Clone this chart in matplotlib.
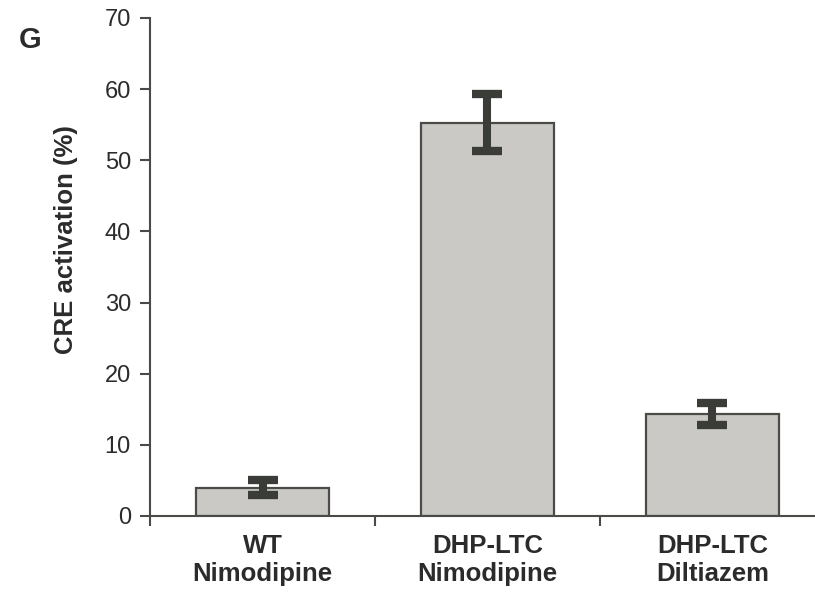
import matplotlib
matplotlib.use("Agg")
import matplotlib.pyplot as plt
import numpy as np

# values
categories = ["WT\nNimodipine", "DHP-LTC\nNimodipine", "DHP-LTC\nDiltiazem"]
activation = [4.0, 55.3, 14.4]
activation_err = [1.0, 4.0, 1.55]
yticks = [0, 10, 20, 30, 40, 50, 60, 70]

bar_fill = "#cbc9c5"
bar_edge = "#4b4b47"
err_color = "#3a3d37"
axis_color = "#4a4a47"
text_color = "#2b2b2b"

plt.rcParams["font.family"] = ["Liberation Sans", "DejaVu Sans"]

fig = plt.figure(figsize=(8.15, 5.94), dpi=100)
# right edge of the axes runs past the figure, as in the cropped original
ax = fig.add_axes([150 / 815, 78 / 594, 675 / 815, 498 / 594])

x = np.arange(len(categories))
ax.bar(x, activation, width=0.59, color=bar_fill, edgecolor=bar_edge,
       linewidth=1.6, zorder=2)
ax.errorbar(x, activation, yerr=activation_err, fmt="none", ecolor=err_color,
            elinewidth=5.8, capsize=10.8, capthick=6.0, zorder=3)

ax.set_xlim(-0.5, 2.5)
ax.set_ylim(0, 70)

for side in ["top", "right"]:
    ax.spines[side].set_visible(False)
for side in ["left", "bottom"]:
    ax.spines[side].set_color(axis_color)
    ax.spines[side].set_linewidth(1.5)

ax.set_yticks(yticks)
ax.tick_params(axis="y", direction="out", length=7.2, width=1.5,
               color=axis_color, labelsize=17, labelcolor=text_color, pad=6.5)

# boundary ticks are the major ones, labels sit on unlabelled minor ticks
ax.set_xticks([-0.5, 0.5, 1.5, 2.5])
ax.set_xticklabels([])
ax.set_xticks(x, minor=True)
ax.set_xticklabels(categories, minor=True, fontweight="bold", fontsize=18.5,
                   color=text_color, linespacing=1.2)
ax.tick_params(axis="x", which="major", direction="out", length=7.2, width=1.5,
               color=axis_color)
ax.tick_params(axis="x", which="minor", length=0, pad=13)

ax.set_ylabel("CRE activation (%)", fontsize=18.5, fontweight="bold",
              color=text_color)
ax.yaxis.set_label_coords(-0.106, 0.556)

fig.text(30 / 815, 1 - 40 / 594, "G", ha="center", va="center",
         fontsize=21, fontweight="bold", color=text_color)

fig.savefig("out.png", dpi=100)
